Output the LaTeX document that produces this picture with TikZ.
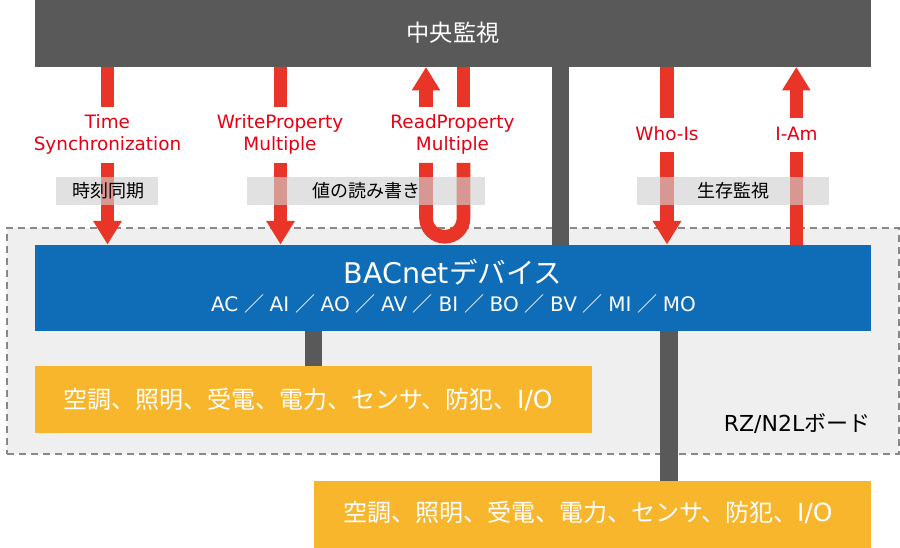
\documentclass[tikz,border=0pt]{standalone}
\usepackage{fontspec}
\setmainfont{Noto Sans CJK JP}
\newfontfamily\lat{DejaVu Sans}
\usetikzlibrary{arrows.meta}
\definecolor{barG}{HTML}{595959}
\definecolor{arrR}{HTML}{E93528}
\definecolor{txtR}{HTML}{E60012}
\definecolor{devB}{HTML}{0F6CB6}
\definecolor{ioY}{HTML}{F8B62D}
\definecolor{brdG}{HTML}{EFEFEF}
\definecolor{dashG}{HTML}{888888}
\definecolor{capG}{HTML}{D1D1D1}
\newcommand{\fsl}{\hspace{5.7pt}{\rmfamily\fontsize{20}{22}\selectfont ／}\hspace{5.7pt}}
\tikzset{
 blk/.style={inner sep=0pt,outer sep=0pt,anchor=north west,minimum width=#1},
 rl/.style={text=txtR,font=\lat\fontsize{18.4}{21.7}\selectfont,align=center,inner sep=0pt},
 cap/.style={fill=capG,fill opacity=.63,inner sep=0pt,minimum height=28pt,anchor=north west,minimum width=#1},
 captxt/.style={text=black,font=\fontsize{18}{20}\selectfont,inner sep=0pt},
 shaft/.style={draw=arrR,line width=13.6pt},
 arr/.style={shaft,-{Triangle[width=27pt,length=23.5pt]}},
 gconn/.style={draw=barG,line width=17.5pt},
 iotxt/.style={text=white,font=\fontsize{24}{28}\selectfont,inner sep=0pt}
}
\begin{document}
\begin{tikzpicture}[x=1pt,y=-1pt]
\useasboundingbox (0,0) rectangle (900,548);
\fill[white] (0,0) rectangle (900,548);
\node[blk=892pt,minimum height=226pt,fill=brdG,draw=dashG,line width=1.5pt,dash pattern=on 7pt off 5pt] (board) at (7,228) {};
\node[blk=836pt,minimum height=67.5pt,fill=barG,text=white] (top) at (35,0) {};
\node[text=white,font=\fontsize{23.2}{26}\selectfont,inner sep=0pt] (toptxt) at (453,33) {中央監視};
\node[blk=836pt,minimum height=85.5pt,fill=devB] (dev) at (35,245) {};
\node[blk=557pt,minimum height=66.5pt,fill=ioY] (io1) at (35,366) {};
\node[blk=557pt,minimum height=66.5pt,fill=ioY] (io2) at (314,481) {};
\draw[gconn] (560.5,0 |- top.south) -- (560.5,0 |- dev.north);
\draw[gconn] (313.5,0 |- dev.south) -- (313.5,0 |- io1.north);
\draw[gconn] (669,0 |- dev.south) -- (669,0 |- io2.north);
% arrow end points
\coordinate (a1) at (107.5,67);\coordinate (a2) at (107.5,107.5);\coordinate (a3) at (107.5,163);\coordinate (a4) at (107.5,244.5);
\coordinate (b1) at (280.5,67);\coordinate (b2) at (280.5,107.5);\coordinate (b3) at (280.5,163);\coordinate (b4) at (280.5,244.5);
\coordinate (c1) at (426,107.5);\coordinate (c2) at (426,67);
\coordinate (d1) at (463.5,67);\coordinate (d2) at (463.5,107.5);\coordinate (d3) at (463.5,163);\coordinate (d4) at (463.5,218);
\coordinate (c3) at (426,163);
\coordinate (e1) at (667,67);\coordinate (e2) at (667,118.5);\coordinate (e3) at (667,152);\coordinate (e4) at (667,244.5);
\coordinate (f1) at (796.3,118.5);\coordinate (f2) at (796.3,67);\coordinate (f3) at (796.3,245);\coordinate (f4) at (796.3,152);
\draw[shaft] (a1) -- (a2);\draw[arr] (a3) -- (a4);
\draw[shaft] (b1) -- (b2);\draw[arr] (b3) -- (b4);
\draw[arr] (c1) -- (c2);
\draw[shaft] (d1) -- (d2);
\draw[shaft] (d3) -- (d4) arc[start angle=0,end angle=-180,radius=18.75pt] -- (c3);
\draw[shaft] (e1) -- (e2);\draw[arr] (e3) -- (e4);
\draw[arr] (f1) -- (f2);\draw[shaft] (f3) -- (f4);
% captions
\node[cap=102pt] (cap1) at (56,177) {};
\node[cap=238pt] (cap2) at (247,177) {};
\node[cap=192pt] (cap3) at (637,177) {};
\node[captxt] (t1) at (108,191) {時刻同期};
\node[captxt] (t2) at (366,191) {値の読み書き};
\node[captxt] (t3) at (733,191) {生存監視};
% red labels
\node[rl] (l1) at (107.5,134.5) {Time\\Synchronization};
\node[rl] (l2) at (280,134.5) {WriteProperty\\Multiple};
\node[rl] (l3) at (452.5,134.5) {ReadProperty\\Multiple};
\node[rl] (l4) at (667,134) {Who-Is};
\node[rl] (l5) at (796.5,134) {I-Am};
% device
\node[text=white,font=\fontsize{28.5}{32}\selectfont,inner sep=0pt] (d1t) at (453,272) {{\lat BACnet}デバイス};
\node[text=white,font=\lat\fontsize{20}{22}\selectfont,inner sep=0pt] (d2t) at (453.5,304) {AC\fsl AI\fsl AO\fsl AV\fsl BI\fsl BO\fsl BV\fsl MI\fsl MO};
\node[iotxt] (i1) at (308,400) {空調、照明、受電、電力、センサ、防犯、{\lat\fontsize{25}{28}\selectfont I/O}};
\node[iotxt] (i2) at (588,513) {空調、照明、受電、電力、センサ、防犯、{\lat\fontsize{25}{28}\selectfont I/O}};
\node[text=black,font=\fontsize{22}{24}\selectfont,inner sep=0pt,anchor=east] (rz) at (870.5,424) {{\lat RZ/N2L}ボード};
\end{tikzpicture}
\end{document}
